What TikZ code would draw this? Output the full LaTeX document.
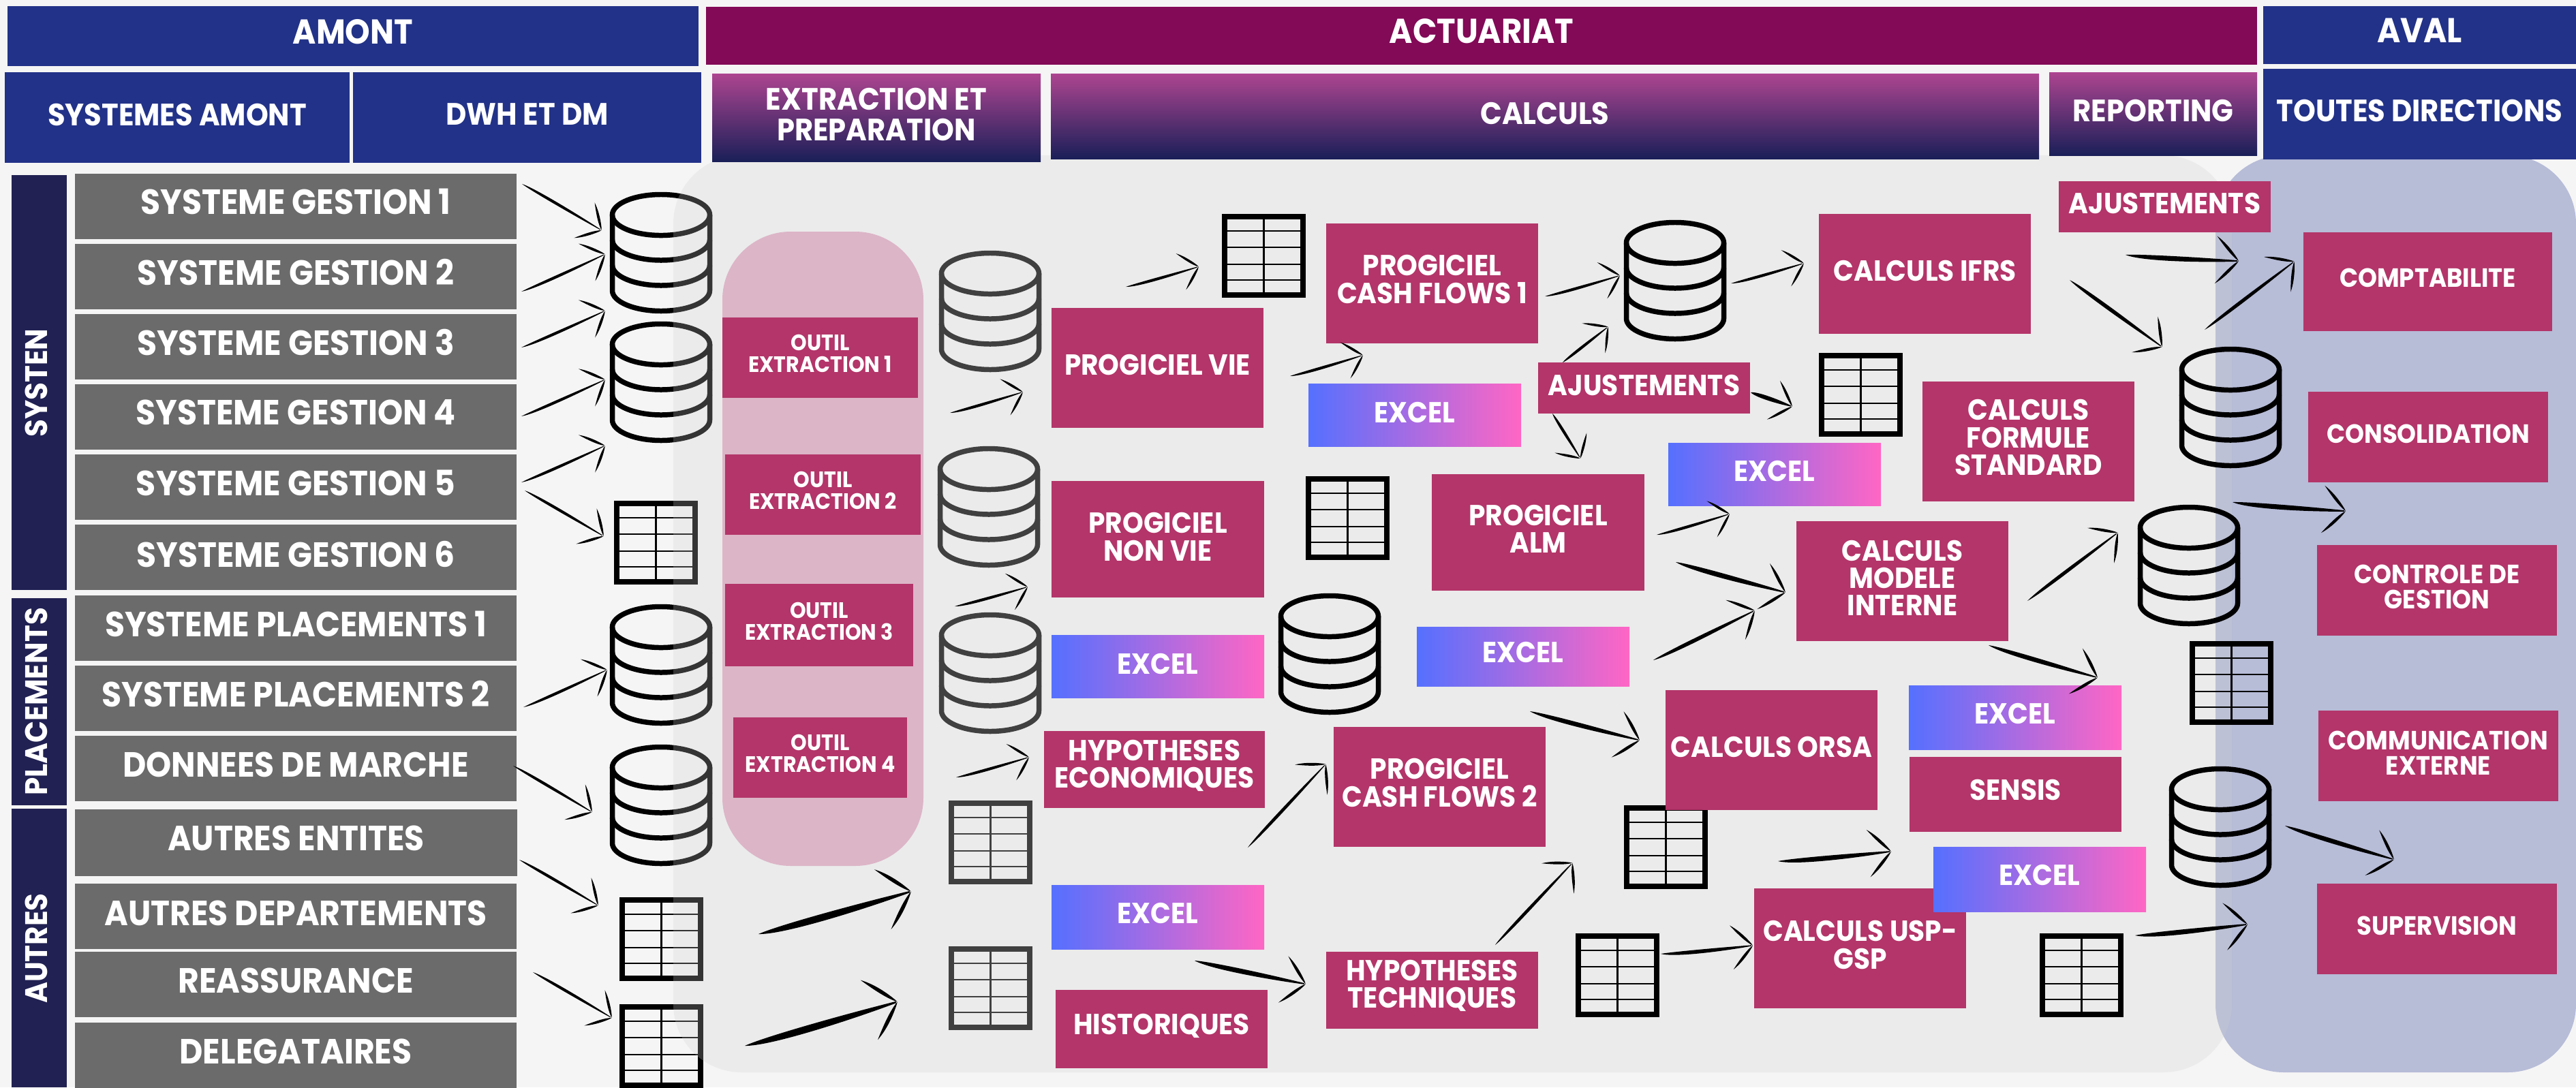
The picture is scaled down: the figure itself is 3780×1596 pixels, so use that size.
\documentclass[tikz,border=0pt]{standalone}
\usepackage{fontspec}
\setmainfont[FakeStretch=0.92]{Poppins}
\definecolor{pagebg}{HTML}{F5F5F5}
\definecolor{navy}{HTML}{223288}
\definecolor{plum}{HTML}{820A57}
\definecolor{sidebar}{HTML}{212153}
\definecolor{slate}{HTML}{6B6B6B}
\definecolor{rose}{HTML}{B33569}
\definecolor{gradtop}{HTML}{AD4590}
\definecolor{gradbot}{HTML}{1A1F58}
\definecolor{xlleft}{HTML}{5570FF}
\definecolor{xlright}{HTML}{FF66C4}
\definecolor{bluepanel}{HTML}{B7BCD7}
\definecolor{pinkpanel}{HTML}{DCB5C7}
\definecolor{veil}{HTML}{D1D1D1}
\definecolor{dimicon}{HTML}{404040}
\tikzset{
  flat/.style={inner sep=0pt,outer sep=0pt,draw=none},
  navybox/.style={flat,fill=navy},
  plumbox/.style={flat,fill=plum},
  sidebox/.style={flat,fill=sidebar},
  slatebox/.style={flat,fill=slate},
  rosebox/.style={flat,fill=rose},
  gradbox/.style={flat,shading=axis,top color=gradtop,bottom color=gradbot},
  xlbox/.style={flat,shading=axis,left color=xlleft,right color=xlright},
  lab/.style={inner sep=0pt,outer sep=0pt,text=white,align=center},
  tHead/.style={lab,font=\fontsize{14.4}{12.3}\selectfont\bfseries},
  tSub/.style={lab,font=\fontsize{12.9}{12.3}\selectfont\bfseries},
  tList/.style={lab,font=\fontsize{14.6}{12}\selectfont\bfseries},
  tBox/.style={lab,font=\fontsize{12.1}{11.4}\selectfont\bfseries},
  tRight/.style={lab,font=\fontsize{11}{10.6}\selectfont\bfseries},
  tSide/.style={lab,font=\fontsize{13}{13}\selectfont\bfseries},
  tTool/.style={lab,font=\fontsize{9.3}{9.1}\selectfont\bfseries},
  cylline/.style={line width=2.13pt,line join=round,fill=none},
  tabline/.style={line width=2.28pt,fill=none},
  tabthin/.style={line width=0.75pt},
  arrowink/.style={fill=black,draw=none},
  pics/cyl/.style={code={
    \draw[pic actions,cylline] (0,33.5) ellipse [x radius=0.715cm,y radius=0.30cm];
    \draw[pic actions,cylline] (-71.5,33.5) -- (-71.5,144.5)
      .. controls (-71.5,161) and (-39,174.5) .. (0,174.5)
      .. controls (39,174.5) and (71.5,161) .. (71.5,144.5) -- (71.5,33.5);
    \draw[pic actions,cylline] (-71.5,70) .. controls (-71.5,86.5) and (-39,100) .. (0,100)
      .. controls (39,100) and (71.5,86.5) .. (71.5,70);
    \draw[pic actions,cylline] (-71.5,107) .. controls (-71.5,123.5) and (-39,137) .. (0,137)
      .. controls (39,137) and (71.5,123.5) .. (71.5,107);
  }},
  pics/tab/.style={code={
    \draw[pic actions,tabline] (4,4) rectangle (119,119);
    \foreach \rowy in {25,49,74,97}{\draw[pic actions,tabthin] (4,\rowy) -- (119,\rowy);}
    \draw[pic actions,tabthin] (61.5,4) -- (61.5,119);
  }},
}
% box with its text, text line placed at a given height
\newcommand\bx[9]{%
  \node[#2,minimum width={(#5-#3)*0.01cm},minimum height={(#6-#4)*0.01cm}] (#1) at ({(#3+#5)/2},{(#4+#6)/2}) {};
  \node[#8] (#1t) at ({(#3+#5)/2},#7) {#9};
}
\newcommand\skbarb[2]{%
  \fill[arrowink] (\sklen+2,0)
    .. controls (\sklen-.25*#2,#1*.2*#2) and (\sklen-.55*#2,#1*.55*#2) .. (\sklen-.9*#2,#1*#2)
    .. controls (\sklen-.62*#2,#1*.82*#2) and (\sklen-.3*#2,#1*.52*#2) .. (\sklen,#1*3.5) -- cycle;
}
% hand-drawn arrow: from, to, half thickness, head size, sag
\newcommand\skarrow[5]{%
  \path (#1); \pgfgetlastxy{\skxa}{\skya}%
  \path (#2); \pgfgetlastxy{\skxb}{\skyb}%
  \pgfmathsetmacro\skang{atan2(\skyb-\skya,\skxb-\skxa)}%
  \pgfmathsetmacro\sklen{veclen(\skxb-\skxa,\skyb-\skya)/0.28453}%
  \pgfmathsetmacro\skhd{#4*1.2}%
  \begin{scope}[shift={(#1)},rotate=\skang]
    \fill[arrowink] (0,{#5*0}) .. controls (\sklen*.15,{#5-2*#3}) and (\sklen*.7,{#5*.5-1.3*#3}) .. (\sklen,{-.3*#3})
      -- (\sklen,{.3*#3}) .. controls (\sklen*.7,{#5*.5+1.3*#3}) and (\sklen*.15,{#5+2*#3}) .. (0,0) -- cycle;
    \skbarb{1}{\skhd}
    \skbarb{-1}{\skhd}
  \end{scope}
}
\newcommand\arw[8]{%
  \coordinate (#1s) at (#2,#3);
  \coordinate (#1e) at (#4,#5);
  \skarrow{#1s}{#1e}{#6}{#7}{#8}
}
\begin{document}
\begin{tikzpicture}[x=0.01cm,y=-0.01cm]
\useasboundingbox (0,0) rectangle (3780,1596);
\clip (0,0) rectangle (3780,1596);
\fill[pagebg] (0,0) rectangle (3780,1596);

% blue panel
\fill[bluepanel,rounded corners=1cm] (3251,228) rectangle (3780,1574);

% icons under the veil
\pic[draw=black] (d1) at (970,282) {cyl};
\pic[draw=black] (d2) at (970,472) {cyl};
\pic[draw=black] (d3) at (970,887) {cyl};
\pic[draw=black] (d4) at (970,1093) {cyl};
\pic[draw=black] (t1) at (901,735) {tab};
\pic[draw=black] (t2) at (909,1317) {tab};
\pic[draw=black] (t3) at (909,1474) {tab};

% grey veil panel
\fill[veil,opacity=.25,rounded corners=1cm] (988,228) rectangle (3275,1574);
% pink panel
\fill[pinkpanel,rounded corners=1cm] (1060,340) rectangle (1355,1271);

% column headers
\bx{amont}{navybox}{11}{9}{1025}{97}{47}{tHead}{AMONT}
\bx{actu}{plumbox}{1036}{10}{3312}{95}{46}{tHead}{ACTUARIAT}
\bx{aval}{navybox}{3321}{9}{3780}{94}{45}{tHead}{AVAL}
\bx{sysam}{navybox}{7}{106}{513}{239}{168}{tSub}{SYSTEMES AMONT}
\bx{dwh}{navybox}{518}{106}{1029}{239}{168}{tSub}{DWH ET DM}
\bx{extr}{gradbox}{1045}{108}{1527}{237}{168}{tSub}{EXTRACTION ET\\[0.5pt]PREPARATION}
\bx{calc}{gradbox}{1542}{108}{2992}{233}{166}{tSub}{CALCULS}
\bx{repo}{gradbox}{3007}{106}{3312}{228}{162}{tSub}{REPORTING}
\bx{toutes}{navybox}{3321}{101}{3780}{234}{162}{tSub}{TOUTES DIRECTIONS}

% side bars
\node[sidebox,minimum width=0.81cm,minimum height=6.09cm] (sbsys) at (57.5,561.5) {};
\node[tSide,rotate=90] (sbsyst) at (53,562) {SYSTEN};
\node[sidebox,minimum width=0.81cm,minimum height=3.04cm] (sbpla) at (57.5,1030) {};
\node[tSide,rotate=90] (sbplat) at (53,1030) {PLACEMENTS};
\node[sidebox,minimum width=0.81cm,minimum height=4.09cm] (sbaut) at (57.5,1391.5) {};
\node[tSide,rotate=90] (sbautt) at (53,1392) {AUTRES};

% source list
\bx{g1}{slatebox}{110}{255}{758}{351}{296}{tList}{SYSTEME GESTION 1}
\bx{g2}{slatebox}{110}{358}{758}{454}{399.5}{tList}{SYSTEME GESTION 2}
\bx{g3}{slatebox}{110}{461}{758}{557}{502.5}{tList}{SYSTEME GESTION 3}
\bx{g4}{slatebox}{110}{564}{758}{660}{605.5}{tList}{SYSTEME GESTION 4}
\bx{g5}{slatebox}{110}{667}{758}{763}{708.5}{tList}{SYSTEME GESTION 5}
\bx{g6}{slatebox}{110}{770}{758}{866}{814}{tList}{SYSTEME GESTION 6}
\bx{p1}{slatebox}{110}{874}{758}{970}{916}{tList}{SYSTEME PLACEMENTS 1}
\bx{p2}{slatebox}{110}{977}{758}{1073}{1019}{tList}{SYSTEME PLACEMENTS 2}
\bx{dm}{slatebox}{110}{1080}{758}{1176}{1122}{tList}{DONNEES DE MARCHE}
\bx{ae}{slatebox}{110}{1188}{759}{1286}{1230}{tList}{AUTRES ENTITES}
\bx{ad}{slatebox}{110}{1297}{758}{1393}{1340}{tList}{AUTRES DEPARTEMENTS}
\bx{re}{slatebox}{110}{1397}{758}{1493}{1439}{tList}{REASSURANCE}
\bx{de}{slatebox}{110}{1501}{758}{1600}{1543}{tList}{DELEGATAIRES}

% icons over the panel
\pic[draw=dimicon] (d5) at (1453,368) {cyl};
\pic[draw=dimicon] (d6) at (1451,655) {cyl};
\pic[draw=dimicon] (d7) at (1453,899) {cyl};
\pic[draw=black] (d8) at (2458,323) {cyl};
\pic[draw=black] (d9) at (1951,871) {cyl};
\pic[draw=black] (d10) at (3273,509) {cyl};
\pic[draw=black] (d11) at (3212,741) {cyl};
\pic[draw=black] (d12) at (3258,1125) {cyl};
\pic[draw=dimicon] (t4) at (1392,1175) {tab};
\pic[draw=dimicon] (t5) at (1392,1389) {tab};
\pic[draw=black] (t6) at (1793,314) {tab};
\pic[draw=black] (t7) at (1916,699) {tab};
\pic[draw=black] (t8) at (2383,1182) {tab};
\pic[draw=black] (t9) at (2312,1370) {tab};
\pic[draw=black] (t10) at (2669,518) {tab};
\pic[draw=black] (t11) at (3213,941) {tab};
\pic[draw=black] (t12) at (2993,1370) {tab};

% extraction tools
\bx{o1}{rosebox}{1060}{466}{1347}{584}{519}{tTool}{OUTIL\\EXTRACTION 1}
\bx{o2}{rosebox}{1064}{667}{1351}{785}{720}{tTool}{OUTIL\\EXTRACTION 2}
\bx{o3}{rosebox}{1064}{857}{1340}{978}{912}{tTool}{OUTIL\\EXTRACTION 3}
\bx{o4}{rosebox}{1076}{1053}{1331}{1171}{1106}{tTool}{OUTIL\\EXTRACTION 4}

% calculation boxes
\bx{pvie}{rosebox}{1543}{452}{1854}{628}{535}{tBox}{PROGICIEL VIE}
\bx{pnv}{rosebox}{1543}{706}{1855}{877}{788}{tBox}{PROGICIEL\\NON VIE}
\bx{xa}{xlbox}{1543}{932}{1855}{1024}{974}{tBox}{EXCEL}
\bx{heco}{rosebox}{1532}{1073}{1856}{1186}{1124}{tBox}{HYPOTHESES\\ECONOMIQUES}
\bx{xb}{xlbox}{1543}{1299}{1855}{1393}{1340}{tBox}{EXCEL}
\bx{hist}{rosebox}{1549}{1453}{1860}{1568}{1506}{tBox}{HISTORIQUES}
\bx{cf1}{rosebox}{1946}{328}{2257}{504}{410}{tBox}{PROGICIEL\\CASH FLOWS 1}
\bx{xc}{xlbox}{1920}{563}{2232}{655}{605}{tBox}{EXCEL}
\bx{aj1}{rosebox}{2257}{532}{2568}{607}{565}{tBox}{AJUSTEMENTS}
\bx{alm}{rosebox}{2101}{696}{2413}{867}{776}{tBox}{PROGICIEL\\ALM}
\bx{xd}{xlbox}{2448}{650}{2760}{742}{691}{tBox}{EXCEL}
\bx{xe}{xlbox}{2079}{920}{2391}{1007}{957}{tBox}{EXCEL}
\bx{cf2}{rosebox}{1957}{1067}{2268}{1243}{1149}{tBox}{PROGICIEL\\CASH FLOWS 2}
\bx{htec}{rosebox}{1946}{1397}{2257}{1510}{1447}{tBox}{HYPOTHESES\\TECHNIQUES}
\bx{ifrs}{rosebox}{2669}{314}{2980}{490}{397}{tBox}{CALCULS IFRS}
\bx{aj2}{rosebox}{3021}{266}{3332}{341}{298}{tBox}{AJUSTEMENTS}
\bx{fs}{rosebox}{2821}{560}{3132}{736}{642}{tBox}{CALCULS\\FORMULE\\STANDARD}
\bx{mi}{rosebox}{2636}{765}{2947}{941}{848}{tBox}{CALCULS\\MODELE\\INTERNE}
\bx{orsa}{rosebox}{2444}{1013}{2755}{1189}{1096}{tBox}{CALCULS ORSA}
\bx{xf}{xlbox}{2801}{1006}{3113}{1100}{1047}{tBox}{EXCEL}
\bx{sens}{rosebox}{2802}{1111}{3113}{1221}{1159}{tBox}{SENSIS}
\bx{usp}{rosebox}{2574}{1304}{2885}{1480}{1387}{tBox}{CALCULS USP-\\GSP}
\bx{xg}{xlbox}{2837}{1243}{3149}{1338}{1284}{tBox}{EXCEL}

% downstream boxes
\bx{comp}{rosebox}{3380}{341}{3745}{486}{408}{tRight}{COMPTABILITE}
\bx{cons}{rosebox}{3387}{575}{3739}{708}{637}{tRight}{CONSOLIDATION}
\bx{ctrl}{rosebox}{3400}{800}{3752}{933}{861}{tRight}{CONTROLE DE\\GESTION}
\bx{comm}{rosebox}{3402}{1043}{3754}{1176}{1105}{tRight}{COMMUNICATION\\EXTERNE}
\bx{supe}{rosebox}{3400}{1297}{3752}{1430}{1359}{tRight}{SUPERVISION}

% arrows
\arw{a1}{766}{270}{881}{337}{1.6}{25}{-1}
\arw{a2}{765}{428}{886}{374}{1.6}{25}{2}
\arw{a3}{765}{510}{886}{457}{1.6}{25}{2}
\arw{a4}{765}{611}{886}{558}{1.6}{25}{2}
\arw{a5}{765}{708}{886}{655}{1.6}{25}{2}
\arw{a6}{770}{720}{884}{786}{1.6}{25}{-1}
\arw{a7}{768}{1038}{889}{984}{1.6}{25}{2}
\arw{a8}{753}{1124}{867}{1191}{1.6}{25}{-1}
\arw{a9}{762}{1262}{876}{1328}{1.6}{25}{-1}
\arw{a10}{782}{1427}{896}{1493}{1.6}{25}{-1}
\arw{a11}{1113}{1371}{1335}{1309}{4}{38}{3}
\arw{a12}{1093}{1535}{1315}{1471}{4}{38}{3}
\arw{a13}{1652}{421}{1757}{392}{1.6}{23}{2}
\arw{a14}{1394}{606}{1499}{576}{1.6}{23}{2}
\arw{a15}{1893}{552}{1998}{522}{1.6}{23}{2}
\arw{a16}{2267}{435}{2375}{405}{1.6}{23}{2}
\arw{a17}{2293}{532}{2358}{481}{1.6}{23}{0}
\arw{a18}{2278}{607}{2318}{671}{1.6}{23}{0}
\arw{a19}{2569}{576}{2628}{596}{2.4}{25}{0}
\arw{a20}{2431}{785}{2536}{755}{1.6}{23}{2}
\arw{a21}{2540}{416}{2645}{387}{1.6}{23}{2}
\arw{a22}{1401}{890}{1506}{862}{1.6}{23}{2}
\arw{a23}{1403}{1141}{1508}{1112}{1.6}{23}{2}
\arw{a24}{1831}{1244}{1944}{1123}{1.8}{27}{0}
\arw{a25}{2459}{825}{2618}{869}{2.8}{29}{2}
\arw{a26}{2426}{969}{2573}{897}{2.2}{27}{1}
\arw{a27}{2245}{1044}{2404}{1086}{2.6}{29}{2}
\arw{a28}{2194}{1387}{2306}{1268}{1.8}{27}{0}
\arw{a29}{1753}{1410}{1914}{1444}{2.8}{29}{2}
\arw{a30}{2437}{1400}{2570}{1388}{2.2}{27}{3}
\arw{a31}{3037}{411}{3171}{508}{2.2}{27}{0}
\arw{a32}{3119}{374}{3283}{383}{2.8}{29}{3}
\arw{a33}{3235}{484}{3365}{385}{2}{27}{0}
\arw{a34}{3276}{737}{3440}{750}{2.8}{29}{3}
\arw{a35}{2975}{882}{3106}{783}{2}{27}{0}
\arw{a36}{2918}{947}{3076}{994}{2.6}{29}{2}
\arw{a37}{2609}{1264}{2773}{1250}{2.8}{29}{3}
\arw{a38}{3353}{1212}{3511}{1261}{2.6}{29}{2}
\arw{a39}{3133}{1373}{3296}{1357}{2.8}{29}{3}
\end{tikzpicture}
\end{document}
